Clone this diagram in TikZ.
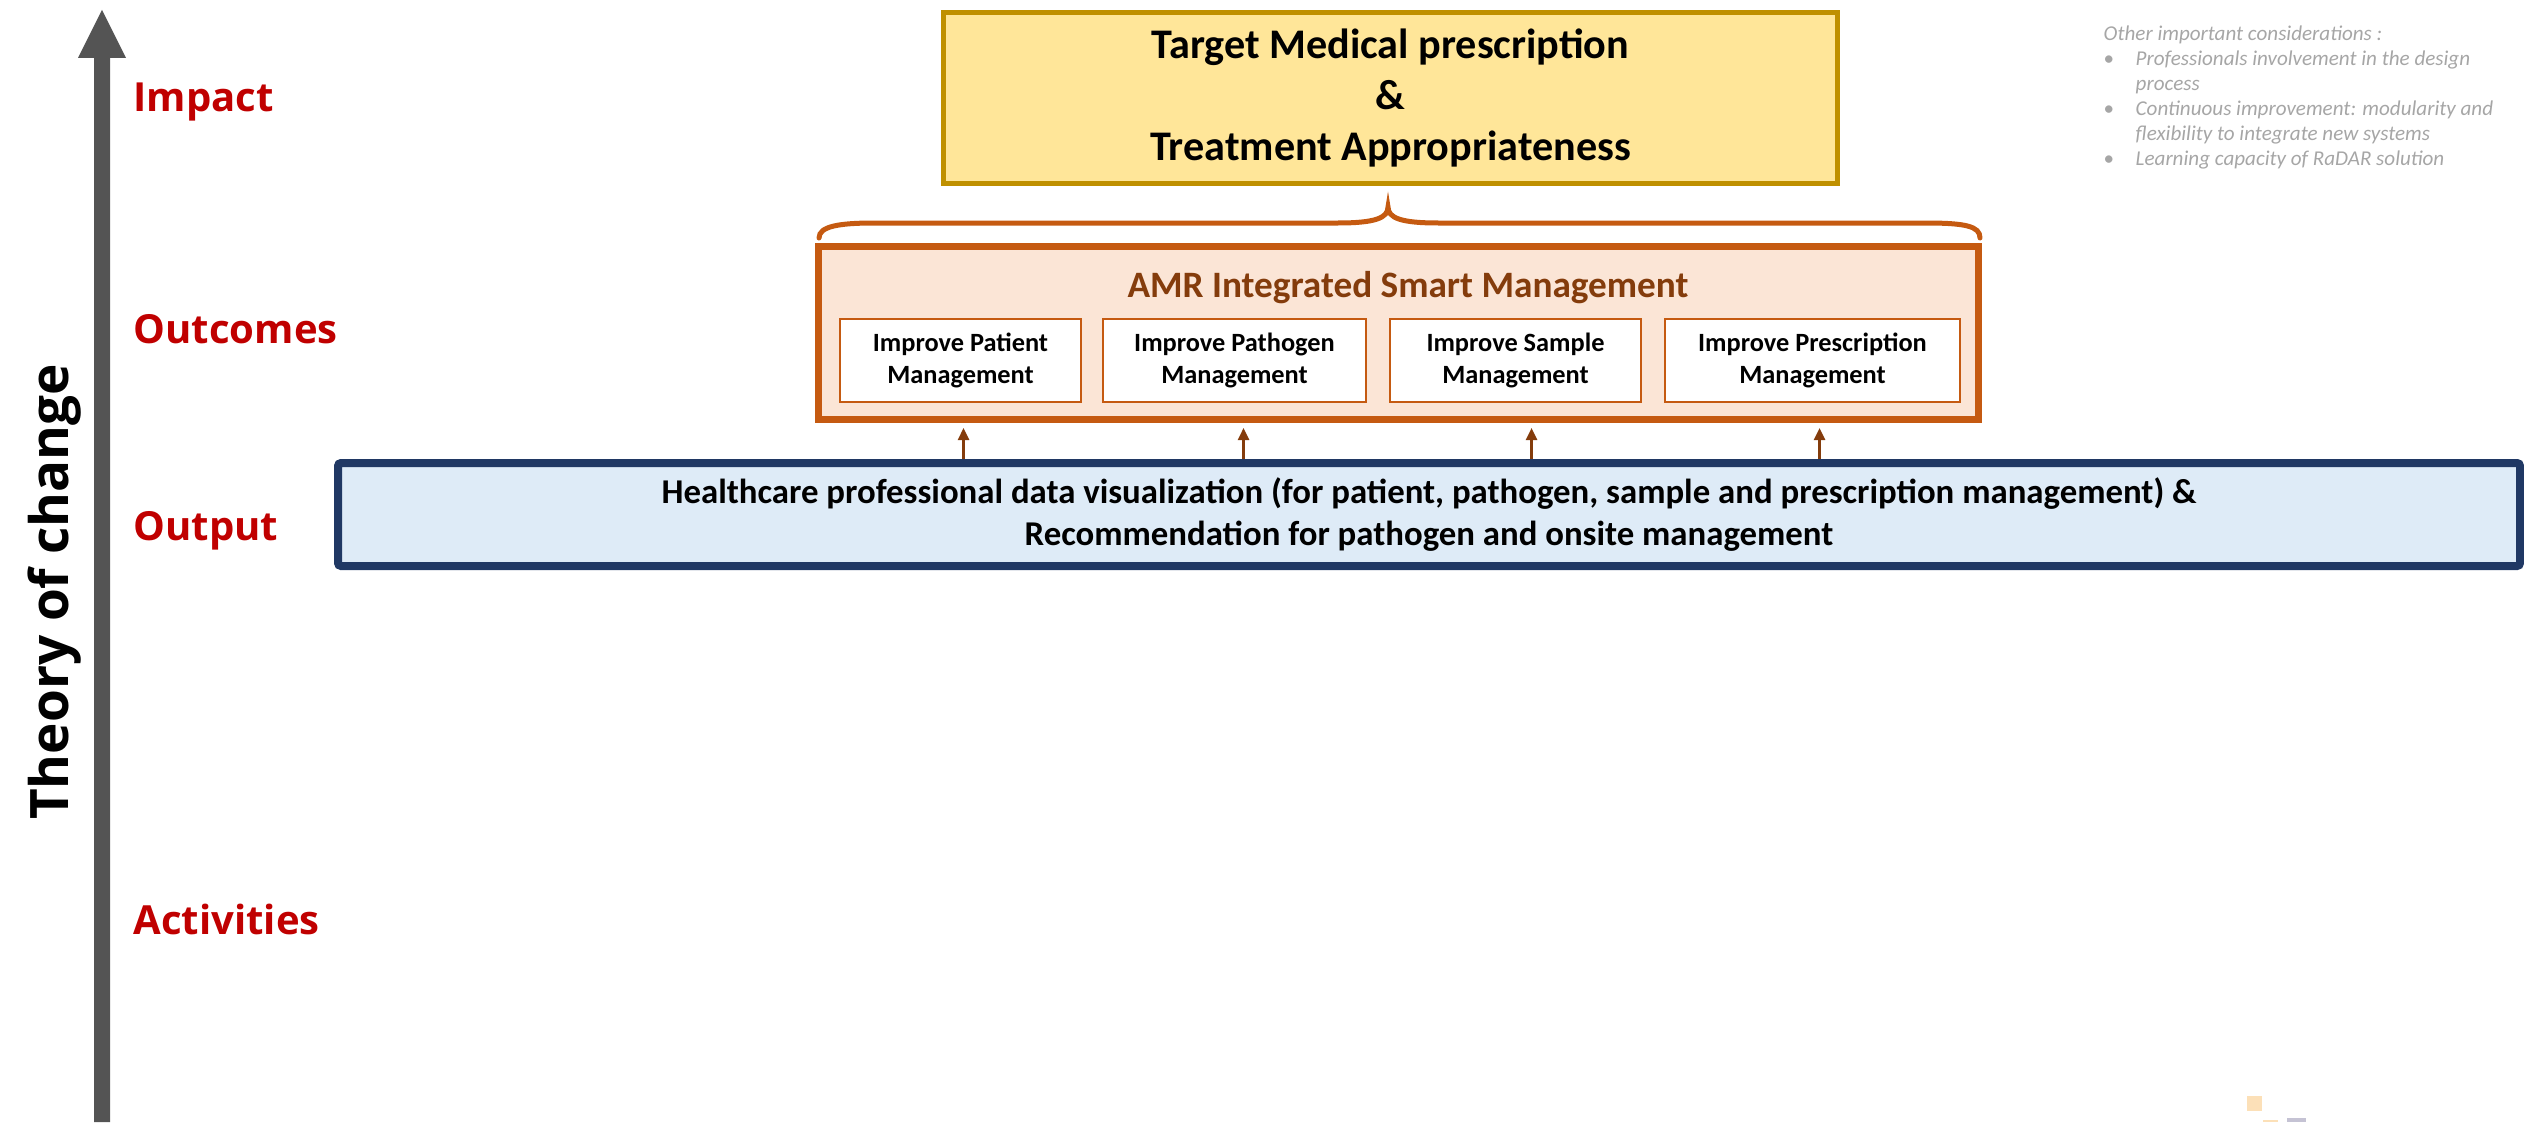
\documentclass[tikz,border=0pt]{standalone}
\usepackage{fontspec}
\setmainfont{Carlito}
\newfontfamily\osans{Open Sans}
\usetikzlibrary{arrows.meta}
\definecolor{arrowgray}{HTML}{545454}
\definecolor{lblred}{HTML}{C00000}
\definecolor{tgtfill}{HTML}{FFE699}
\definecolor{tgtdraw}{HTML}{BF9000}
\definecolor{amrfill}{HTML}{FBE5D6}
\definecolor{amrdraw}{HTML}{C55A11}
\definecolor{amrtext}{HTML}{843C0C}
\definecolor{outfill}{HTML}{DEEBF7}
\definecolor{outdraw}{HTML}{203864}
\definecolor{notegray}{HTML}{A6A6A6}
\definecolor{sqA}{HTML}{FCE0B8}
\definecolor{sqB}{HTML}{C5C3D4}
\begin{document}
\begin{tikzpicture}[x=0.1mm,y=-0.1mm,
  lbl/.style={text=lblred, inner sep=0pt, font=\osans\bfseries\fontsize{11.4}{13}\selectfont},
  tgtbox/.style={draw=tgtdraw, fill=tgtfill, line width=0.5mm, align=center, inner sep=0pt,
    minimum width=89.4mm, minimum height=17.1mm, font=\bfseries\fontsize{12}{14.5}\selectfont},
  amrbox/.style={draw=amrdraw, fill=amrfill, line width=0.7mm, inner sep=0pt,
    minimum width=116mm, minimum height=17.3mm},
  subbox/.style={draw=amrdraw, fill=white, line width=0.2mm, align=center, inner sep=0pt,
    minimum height=8.3mm, font=\bfseries\fontsize{7.5}{9.1}\selectfont},
  outbox/.style={draw=outdraw, fill=outfill, line width=0.8mm, align=center, inner sep=0pt,
    rounded corners=0.3mm, minimum width=218.2mm, minimum height=10.3mm,
    font=\bfseries\fontsize{9.9}{12}\selectfont},
  smallarr/.style={draw=amrtext, line width=0.25mm, -{Triangle[length=1.2mm,width=1.1mm]}, shorten >=0.5mm},
  bracestyle/.style={draw=amrdraw, line width=0.5mm, line cap=round}
]
\useasboundingbox (0,0) rectangle (2524,1122);

% big theory-of-change arrow
\fill[arrowgray] (94,1122) -- (94,58) -- (78,58) -- (102,10) -- (126,58) -- (110,58) -- (110,1122) -- cycle;
\node[rotate=90, anchor=base, inner sep=0pt, font=\osans\bfseries\fontsize{15.1}{17}\selectfont] (toc) at (68,592) {Theory of change};

% level labels
\node[lbl, anchor=base west] (impact) at (133,112) {Impact};
\node[lbl, anchor=base west] (outcomes) at (133,343) {Outcomes};
\node[lbl, anchor=base west] (output) at (133,540) {Output};
\node[lbl, anchor=base west] (activities) at (133,934) {Activities};

% impact box
\node[tgtbox] (target) at (1390.5,98) {Target Medical prescription\\ \&\\ Treatment Appropriateness};

% brace
\draw[bracestyle] (819,238) .. controls (819,226) and (840,223) .. (875,223) -- (1338,223)
  .. controls (1375,223) and (1388,218) .. (1388,207)
  .. controls (1388,218) and (1401,223) .. (1438,223) -- (1925,223)
  .. controls (1965,223) and (1980,226) .. (1980,238);

% outcomes box
\node[amrbox] (amr) at (1398.5,333) {};
\node[anchor=base, inner sep=0pt, text=amrtext, font=\bfseries\fontsize{10.6}{13}\selectfont] (amrtitle) at (1408,297) {AMR Integrated Smart Management};
\node[subbox, minimum width=24.1mm] (sub1) at (960.5,360.5) {Improve Patient\\Management};
\node[subbox, minimum width=26.3mm] (sub2) at (1234.5,360.5) {Improve Pathogen\\Management};
\node[subbox, minimum width=25.1mm] (sub3) at (1515.5,360.5) {Improve Sample\\Management};
\node[subbox, minimum width=29.5mm] (sub4) at (1812.5,360.5) {Improve Prescription\\Management};

% output box
\node[outbox] (out) at (1429,514.5) {Healthcare professional data visualization (for patient, pathogen, sample and prescription management) \&\\Recommendation for pathogen and onsite management};

% arrows output -> outcomes
\draw[smallarr] ([xshift=0.3mm]sub1.south |- out.north) -- ([xshift=0.3mm]sub1.south |- amr.south);
\draw[smallarr] ([xshift=0.9mm]sub2.south |- out.north) -- ([xshift=0.9mm]sub2.south |- amr.south);
\draw[smallarr] ([xshift=1.6mm]sub3.south |- out.north) -- ([xshift=1.6mm]sub3.south |- amr.south);
\draw[smallarr] ([xshift=0.7mm]sub4.south |- out.north) -- ([xshift=0.7mm]sub4.south |- amr.south);

% note
\node[anchor=north west, inner sep=0pt, align=left, text=notegray, font=\itshape\fontsize{6}{7.1}\selectfont] (note) at (2103,25)
{Other important considerations :\\
\makebox[3.2mm][l]{\upshape•}Professionals involvement in the design\\
\hspace*{3.2mm}process\\
\makebox[3.2mm][l]{\upshape•}Continuous improvement: modularity and\\
\hspace*{3.2mm}flexibility to integrate new systems\\
\makebox[3.2mm][l]{\upshape•}Learning capacity of RaDAR solution};

% decorative squares
\fill[sqA] (2247,1096) rectangle (2262,1111);
\fill[sqA] (2263,1120) rectangle (2278,1122);
\fill[sqB] (2287,1118) rectangle (2306,1122);
\end{tikzpicture}
\end{document}
